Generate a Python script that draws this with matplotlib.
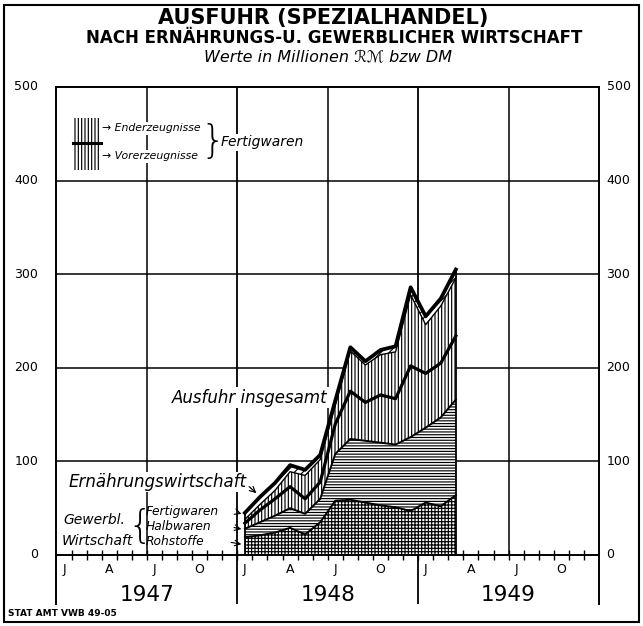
import matplotlib
matplotlib.use('Agg')
import matplotlib.pyplot as plt
import numpy as np
from matplotlib.patches import Rectangle

# ---------------- data (Mio. RM/DM, monthly, Jan 1948 - Mar 1949) ----------------
periods = ['1948-01', '1948-02', '1948-03', '1948-04', '1948-05', '1948-06', '1948-07',
           '1948-08', '1948-09', '1948-10', '1948-11', '1948-12', '1949-01', '1949-02', '1949-03']
rohstoffe      = [19, 21, 24, 29, 22, 35, 58, 59, 56, 53, 51, 47, 56, 52, 64]
halbwaren      = [9, 14, 18, 21, 22, 25, 50, 65, 66, 67, 67, 79, 80, 95, 102]
vorerzeugnisse = [6, 13, 18, 23, 16, 18, 32, 51, 41, 51, 49, 76, 58, 58, 68]
enderzeugnisse = [4, 6, 9, 16, 25, 24, 20, 43, 40, 43, 50, 76, 52, 61, 62]
ernaehrung     = [7, 8, 8, 7, 6, 5, 5, 4, 4, 5, 6, 8, 9, 8, 9]

years = ['1947', '1948', '1949']
month_letters = ['J', 'A', 'J', 'O']
y_ticks = [0, 100, 200, 300, 400, 500]

# ---------------- figure ----------------
plt.rcParams['hatch.linewidth'] = 0.85
W, H = 643, 626
fig = plt.figure(figsize=(W / 100, H / 100), dpi=100)

x_left_px, x_right_px = 56.5, 599.0
y0_px, y500_px = 555.0, 87.0
ppu = (y0_px - y500_px) / 500.0
ymin = -52
bottom_px = y0_px - ymin * ppu
ax = fig.add_axes([x_left_px / W, 1 - bottom_px / H,
                   (x_right_px - x_left_px) / W, (bottom_px - y500_px) / H])
ax.set_xlim(0, 36)
ax.set_ylim(ymin, 500)
for s in ['left', 'right', 'top']:
    ax.spines[s].set_linewidth(1.4)
ax.spines['bottom'].set_position(('data', 0))
ax.spines['bottom'].set_linewidth(1.4)
ax.set_xticks([])
ax.set_yticks([])

# grid
ax.hlines(y_ticks[1:-1], 0, 36, color='black', lw=1.1, zorder=1)
ax.vlines([6, 18, 30], 0, 500, color='black', lw=1.1, zorder=1)
ax.vlines([12, 24], ymin, 500, color='black', lw=1.3, zorder=1)
ax.vlines(np.arange(1, 36), -5, 5, color='black', lw=1.0, zorder=1)

# y labels both sides
for v in y_ticks:
    ax.text(-1.2, v, str(v), ha='right', va='center', fontsize=9, clip_on=False)
    ax.text(36.5, v, str(v), ha='left', va='center', fontsize=9, clip_on=False)

# month & year labels
for yi, yr in enumerate(years):
    for mi, ml in zip([0, 3, 6, 9], month_letters):
        ax.text(yi * 12 + mi + 0.5, -16, ml, ha='center', va='center', fontsize=9)
    ax.text(yi * 12 + 6, -43, yr, ha='center', va='center', fontsize=15.5)

# ---------------- stacked areas ----------------
x = np.arange(len(periods)) + 12.5
c1 = np.array(rohstoffe, float)
c2 = c1 + np.array(halbwaren)
c3 = c2 + np.array(vorerzeugnisse)
c4 = c3 + np.array(enderzeugnisse)
c5 = c4 + np.array(ernaehrung)
zero = np.zeros_like(c1)

layers = [(zero, c1, '+++++'), (c1, c2, '------'), (c2, c3, '|||||'),
          (c3, c4, '|||||'), (c4, c5, '////')]
for lo, hi, hatch in layers:
    ax.fill_between(x, lo, hi, facecolor='white', edgecolor='black', hatch=hatch,
                    linewidth=0, zorder=2)

ax.plot(x, c1, color='black', lw=1.4, zorder=3)
ax.plot(x, c2, color='black', lw=1.4, zorder=3)
ax.plot(x, c3, color='black', lw=2.3, zorder=3)
ax.plot(x, c4, color='black', lw=1.0, zorder=3)
ax.plot(x, c5, color='black', lw=2.7, zorder=3)
ax.vlines([x[0], x[-1]], 0, [c5[0], c5[-1]], color='black', lw=1.3, zorder=3)

# ---------------- annotations ----------------
wb = dict(facecolor='white', edgecolor='none', pad=1)
ax.text(18.0, 168, 'Ausfuhr insgesamt', ha='right', va='center', fontsize=12,
        style='italic', bbox=wb, zorder=4)
ax.text(12.6, 78, 'Ernährungswirtschaft', ha='right', va='center', fontsize=12,
        style='italic', bbox=wb, zorder=4)
ax.annotate('', xy=(13.4, 64), xytext=(12.65, 75),
            arrowprops=dict(arrowstyle='->', lw=0.9, color='black'), zorder=5)
ax.text(0.45, 37, 'Gewerbl.', ha='left', va='center', fontsize=10, style='italic', zorder=4)
ax.text(0.35, 15, 'Wirtschaft', ha='left', va='center', fontsize=10, style='italic', zorder=4)
ax.text(5.55, 30, '{', ha='center', va='center', fontsize=28, fontweight='light', zorder=4)
for lab, v, xend in [('Fertigwaren', 46, 11.9), ('Halbwaren', 30, 11.6), ('Rohstoffe', 14, 11.4)]:
    ax.text(5.95, v, lab, ha='left', va='center', fontsize=8.8, style='italic', zorder=4)
    ax.annotate('', xy=(12.45, v - 3), xytext=(xend, v),
                arrowprops=dict(arrowstyle='->', lw=0.8, color='black'), zorder=5)

# legend block (Fertigwaren)
ax.add_patch(Rectangle((1.1, 411), 1.85, 29, facecolor='white', edgecolor='black',
                       hatch='|||||', lw=0, zorder=2))
ax.add_patch(Rectangle((1.1, 440), 1.85, 27, facecolor='white', edgecolor='black',
                       hatch='|||||', lw=0, zorder=2))
ax.plot([1.1, 2.95], [440, 440], color='black', lw=2.2, zorder=3)
ax.text(3.05, 456, '→ Enderzeugnisse', ha='left', va='center', fontsize=7.8,
        style='italic', bbox=wb, zorder=4)
ax.text(3.05, 426, '→ Vorerzeugnisse', ha='left', va='center', fontsize=7.8,
        style='italic', bbox=wb, zorder=4)
ax.text(10.35, 441, '}', ha='center', va='center', fontsize=28, fontweight='light', zorder=4)
ax.text(10.9, 441, 'Fertigwaren', ha='left', va='center', fontsize=10,
        style='italic', bbox=wb, zorder=4)

# ---------------- titles ----------------
fig.text(0.503, 1 - 18 / H, 'AUSFUHR (SPEZIALHANDEL)', ha='center', va='center',
         fontsize=15, fontweight='bold')
fig.text(0.52, 1 - 38 / H, 'NACH ERNÄHRUNGS-U. GEWERBLICHER WIRTSCHAFT', ha='center',
         va='center', fontsize=12, fontweight='bold')
fig.text(0.51, 1 - 58 / H, 'Werte in Millionen ℛℳ bzw DM', ha='center', va='center',
         fontsize=11.5, style='italic')
fig.text(8 / W, 1 - 614 / H, 'STAT AMT VWB 49-05', ha='left', va='center',
         fontsize=6.5, fontweight='bold')

fig.add_artist(Rectangle((4 / W, 1 - 622 / H), 635 / W, 617 / H, transform=fig.transFigure,
                         fill=False, lw=1.5, edgecolor='black'))

fig.savefig('out.png', dpi=100, facecolor='white')
